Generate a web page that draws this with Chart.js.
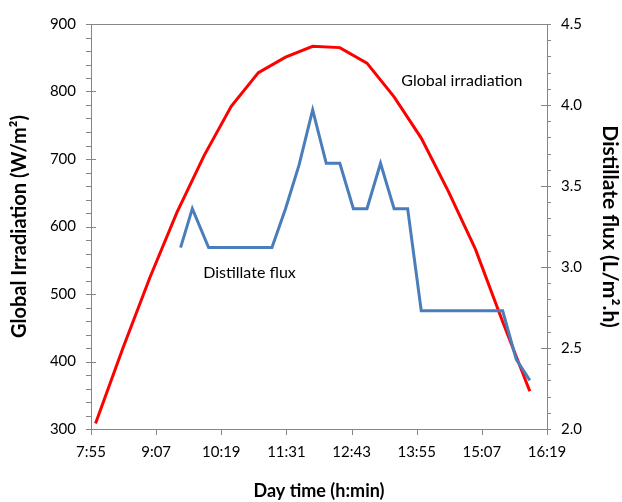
<!DOCTYPE html>
<html>
<head>
<meta charset="utf-8">
<script src="https://cdn.jsdelivr.net/npm/chart.js@4.4.1/dist/chart.umd.min.js"></script>
<style>
html, body { margin: 0; padding: 0; background: #fff; }
#wrap { width: 622px; height: 502px; }
</style>
</head>
<body>
<div id="wrap"><canvas id="chart" width="622" height="502"></canvas></div>
<script>
// x axis tick labels (day time, every 72 min)
const tickLabels = ['7:55', '9:07', '10:19', '11:31', '12:43', '13:55', '15:07', '16:19'];

// global irradiation (W/m2), half-hourly
const irrTimes = ['8:00', '8:30', '9:00', '9:30', '10:00', '10:30', '11:00', '11:30', '12:00',
  '12:30', '13:00', '13:30', '14:00', '14:30', '15:00', '15:30', '16:00'];
const irrValues = [308, 419, 524, 621, 705, 778, 828, 851, 867, 865, 842, 792, 731, 652, 566, 459, 356];

// distillate flux (L/m2.h)
const fluxTimes = ['9:34', '9:47', '10:05', '10:15', '10:30', '10:45', '11:00', '11:15', '11:30',
  '11:45', '12:00', '12:15', '12:30', '12:45', '13:00', '13:15', '13:30', '13:45', '14:00',
  '14:15', '14:30', '14:45', '15:00', '15:15', '15:30', '15:45', '16:00'];
const fluxValues = [3.12, 3.36, 3.12, 3.12, 3.12, 3.12, 3.12, 3.12, 3.36,
  3.63, 3.97, 3.64, 3.64, 3.36, 3.36, 3.64, 3.36, 3.36, 2.73,
  2.73, 2.73, 2.73, 2.73, 2.73, 2.73, 2.43, 2.30];

// in-plot labels: [text, time, left-axis value]
const notes = [
  ['Global irradiation', '13:38', 816],
  ['Distillate flux', '9:59', 532]
];

function toMin(s){
  const [h, m] = s.split(':').map(Number);
  return h * 60 + m;
}
function fmt(v){
  const m = Math.round(v);
  return Math.floor(m / 60) + ':' + String(m % 60).padStart(2, '0');
}

const tickValues = tickLabels.map(toMin);
const FONT = 'Lato, "Open Sans", sans-serif';
const AXIS = '#868686';

function line(ctx, x1, y1, x2, y2){
  ctx.beginPath();
  ctx.moveTo(x1, y1);
  ctx.lineTo(x2, y2);
  ctx.stroke();
}

// frame top, tick marks (major + minor) and the two text labels
const extras = {
  id: 'extras',
  afterDraw(chart){
    const { ctx, chartArea: a, scales } = chart;
    ctx.save();
    ctx.strokeStyle = AXIS;
    ctx.lineWidth = 1;
    line(ctx, a.left, Math.round(a.top) + 0.5, a.right, Math.round(a.top) + 0.5);
    for (let v = 300; v <= 900; v += 20) {
      const y = Math.round(scales.y.getPixelForValue(v)) + 0.5;
      const major = v % 100 === 0;
      line(ctx, a.left - 5, y, a.left + (major ? 5 : 0), y);
    }
    for (let i = 0; i <= 25; i++) {
      const y = Math.round(scales.y2.getPixelForValue(2 + i * 0.1)) + 0.5;
      const major = i % 5 === 0;
      line(ctx, a.right - (major ? 6 : 0), y, a.right + 4, y);
    }
    tickValues.forEach(v => {
      const x = Math.round(scales.x.getPixelForValue(v)) + 0.5;
      line(ctx, x, a.bottom, x, a.bottom + 6);
    });
    ctx.fillStyle = '#000';
    ctx.font = '16px ' + FONT;
    ctx.textBaseline = 'middle';
    ctx.textAlign = 'left';
    notes.forEach(([t, x, y]) => {
      ctx.fillText(t, scales.x.getPixelForValue(toMin(x)), scales.y.getPixelForValue(y));
    });
    ctx.restore();
  }
};

new Chart(document.getElementById('chart'), {
  type: 'line',
  data: {
    datasets: [
      {
        label: 'Distillate flux',
        data: fluxTimes.map((t, i) => ({ x: toMin(t), y: fluxValues[i] })),
        yAxisID: 'y2',
        borderColor: '#4a7ebb',
        borderWidth: 3,
        pointRadius: 0,
        tension: 0
      },
      {
        label: 'Global irradiation',
        data: irrTimes.map((t, i) => ({ x: toMin(t), y: irrValues[i] })),
        yAxisID: 'y',
        borderColor: '#ff0000',
        borderWidth: 3,
        pointRadius: 0,
        tension: 0
      }
    ]
  },
  options: {
    responsive: false,
    animation: false,
    devicePixelRatio: 1,
    layout: { padding: { top: 22 } },
    plugins: { legend: { display: false }, tooltip: { enabled: false } },
    scales: {
      x: {
        type: 'linear',
        min: tickValues[0],
        max: tickValues[tickValues.length - 1],
        afterBuildTicks: s => { s.ticks = tickValues.map(v => ({ value: v })); },
        afterFit: s => { s.height = 73; },
        grid: { display: false, drawTicks: false },
        border: { color: AXIS },
        ticks: { callback: v => fmt(v), color: '#000', font: { family: FONT, size: 15 }, padding: 14, maxRotation: 0 },
        title: { display: true, text: 'Day time (h:min)', color: '#000', font: { family: FONT, size: 18, weight: 'bold' }, padding: { top: 0, bottom: 0 } }
      },
      y: {
        position: 'left',
        min: 300,
        max: 900,
        afterFit: s => { s.width = 91; },
        grid: { display: false, drawTicks: false },
        border: { color: AXIS },
        ticks: { stepSize: 100, color: '#000', font: { family: FONT, size: 15 }, padding: 15 },
        title: { display: true, text: 'Global Irradiation (W/m²)', color: '#000', font: { family: FONT, size: 20, weight: 'bold' }, padding: { top: 8, bottom: 0 } }
      },
      y2: {
        position: 'right',
        min: 2,
        max: 4.5,
        afterFit: s => { s.width = 75; },
        grid: { display: false, drawTicks: false },
        border: { color: AXIS },
        ticks: { stepSize: 0.5, callback: v => v.toFixed(1), color: '#000', font: { family: FONT, size: 15 }, padding: 14 },
        title: { display: true, text: 'Distillate flux (L/m².h)', color: '#000', font: { family: FONT, size: 21, weight: 'bold' }, padding: { top: 0, bottom: 0 } }
      }
    }
  },
  plugins: [extras]
});
</script>
</body>
</html>
